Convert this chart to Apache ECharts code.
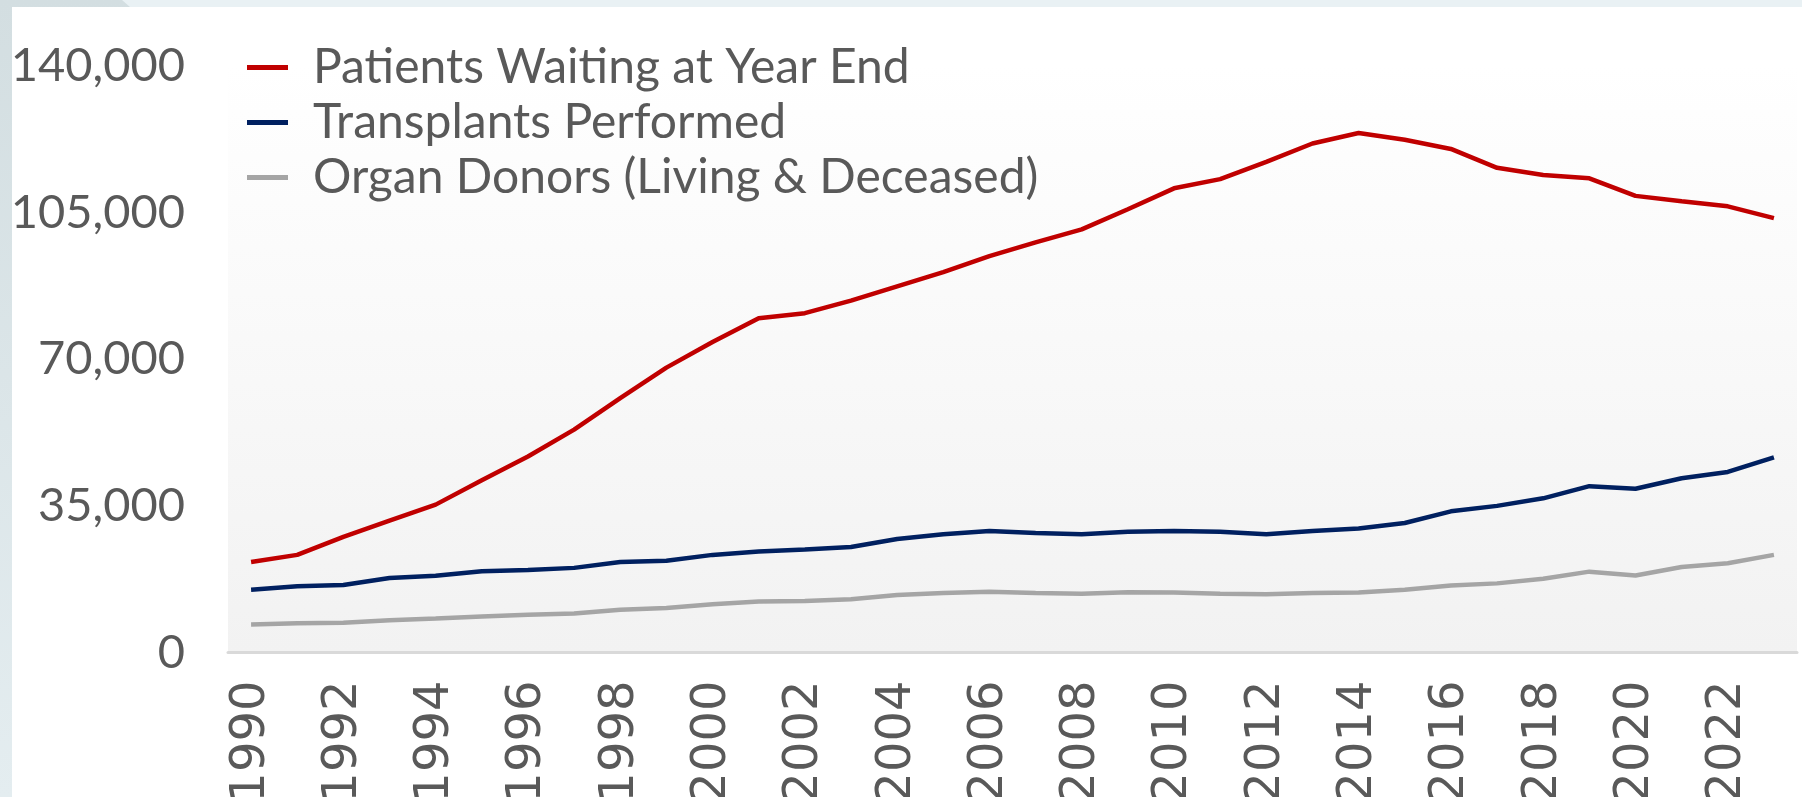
<!DOCTYPE html>
<html>
<head>
<meta charset="utf-8">
<script src="https://cdn.jsdelivr.net/npm/echarts@6/dist/echarts.min.js"></script>
<style>
html,body{margin:0;padding:0;width:1802px;height:797px;overflow:hidden;background:#e9f1f4;}
#chart{width:1802px;height:797px;}
</style>
</head>
<body>
<div id="chart"></div>
<script>
const years = ['1990','1991','1992','1993','1994','1995','1996','1997','1998','1999','2000','2001','2002','2003','2004','2005','2006','2007','2008','2009','2010','2011','2012','2013','2014','2015','2016','2017','2018','2019','2020','2021','2022','2023'];
const seriesNames = ['Patients Waiting at Year End','Transplants Performed','Organ Donors (Living & Deceased)'];
const waiting = [21600,23300,27600,31500,35300,41100,46800,53200,60700,68000,74100,79800,81000,84000,87400,90800,94600,97900,101000,105800,110800,113000,117100,121500,124000,122400,120200,115700,114000,113200,109000,107700,106500,103700];
const transplants = [15000,15800,16100,17800,18300,19400,19700,20200,21600,21900,23300,24100,24600,25200,27100,28200,29000,28500,28200,28800,29000,28800,28200,29000,29600,30900,33700,35000,36800,39700,39100,41600,43100,46600];
const donors = [6700,7000,7100,7700,8100,8600,9000,9300,10200,10600,11500,12200,12300,12700,13700,14200,14500,14200,14000,14400,14300,14000,13900,14200,14300,15000,16000,16500,17600,19300,18400,20400,21300,23300];
const yTicks = [0,35000,70000,105000,140000];
const colors = ['#c00000','#002060','#a5a5a5'];

const chart = echarts.init(document.getElementById('chart'), null, {renderer:'canvas'});
const txt = '#595959';
chart.setOption({
  animation:false,
  backgroundColor:'transparent',
  graphic:[
    {type:'rect',z:-10,silent:true,shape:{x:0,y:0,width:1802,height:797},style:{fill:'#e9f1f4'}},
    {type:'polygon',z:-9,silent:true,shape:{points:[[0,0],[122,0],[130,7],[12,7],[12,797],[0,797]]},
      style:{fill:new echarts.graphic.LinearGradient(0,0,0,1,[{offset:0,color:'#d3dee1'},{offset:1,color:'#e4edf0'}])}},
    {type:'rect',z:-8,silent:true,shape:{x:12,y:7,width:1790,height:790},style:{fill:'#ffffff'}},
    {type:'rect',z:-7,silent:true,shape:{x:228,y:66,width:1569,height:587},
      style:{fill:new echarts.graphic.LinearGradient(0,0,0,1,[{offset:0,color:'#ffffff'},{offset:1,color:'#f2f2f2'}])}}
  ],
  grid:{left:228,right:5,top:66,bottom:144.5,outerBoundsMode:'none',containLabel:false},
  legend:{
    orient:'vertical',left:242,top:35,itemGap:0,itemWidth:41,itemHeight:5,icon:'rect',
    data:seriesNames,
    textStyle:{fontFamily:'Lato',fontSize:48,color:txt,lineHeight:55,padding:[0,0,0,20]}
  },
  xAxis:{
    type:'category',data:years,boundaryGap:true,
    axisLine:{show:true,lineStyle:{color:'#d9d9d9',width:3}},
    axisTick:{show:false},
    splitLine:{show:false},
    axisLabel:{interval:1,rotate:90,margin:28,fontFamily:'DejaVu Sans',fontSize:48,color:txt}
  },
  yAxis:{
    type:'value',min:yTicks[0],max:yTicks[yTicks.length-1],interval:35000,
    axisLine:{show:false},axisTick:{show:false},splitLine:{show:false},
    axisLabel:{margin:43,fontFamily:'Lato',fontSize:47,color:txt,
      formatter:v=>v.toLocaleString('en-US')}
  },
  series:[
    {name:seriesNames[0],type:'line',data:waiting,symbol:'none',lineStyle:{width:4.5,color:colors[0]},itemStyle:{color:colors[0]}},
    {name:seriesNames[1],type:'line',data:transplants,symbol:'none',lineStyle:{width:4.5,color:colors[1]},itemStyle:{color:colors[1]}},
    {name:seriesNames[2],type:'line',data:donors,symbol:'none',lineStyle:{width:4.5,color:colors[2]},itemStyle:{color:colors[2]}}
  ]
});
</script>
</body>
</html>
